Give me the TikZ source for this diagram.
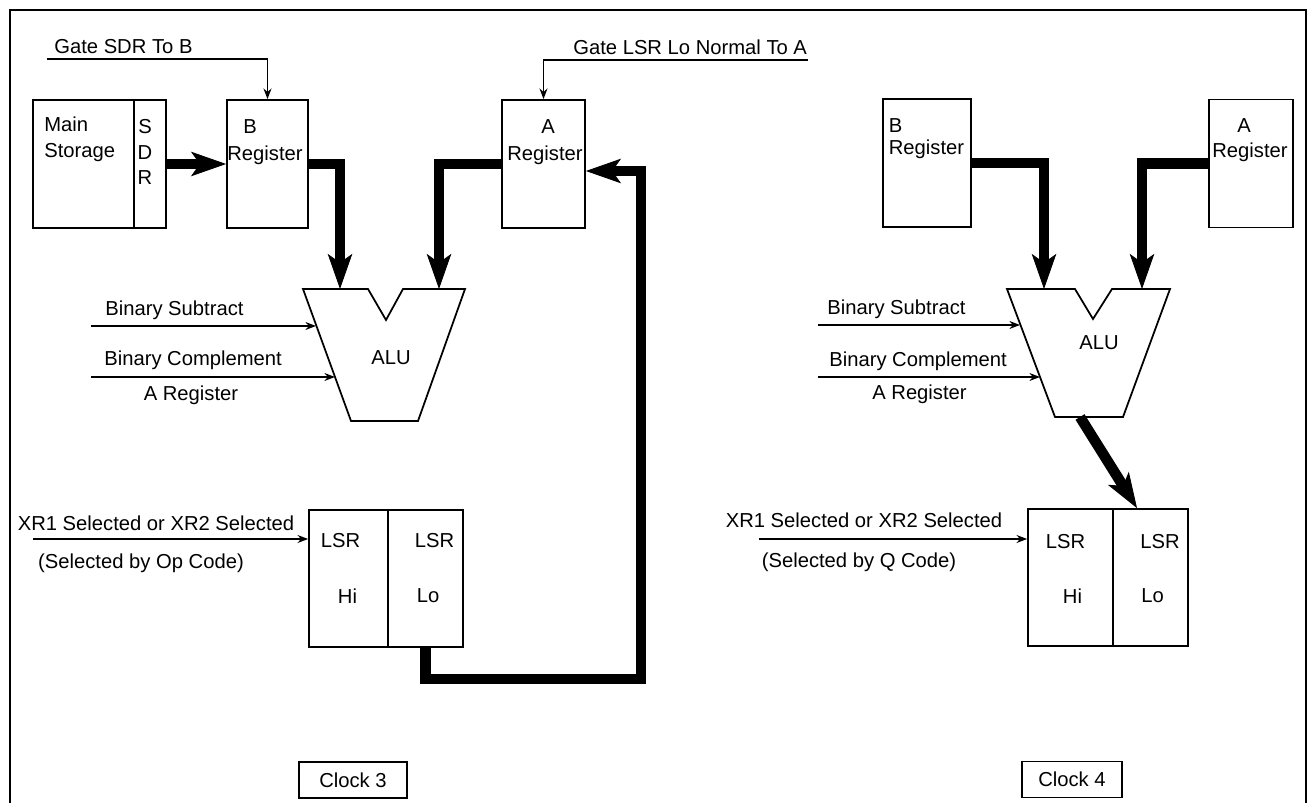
\documentclass[tikz,border=0pt]{standalone}
\usepackage{fontspec}
\setmainfont{Liberation Sans}
\usetikzlibrary{arrows.meta}

\begin{document}
\begin{tikzpicture}[every node/.style={font=\fontsize{11.5}{14.5}\selectfont},
	reg/.style={draw, line width=1pt, inner sep=0pt, minimum height=2.56cm},
	txt/.style={inner sep=0pt},
	bus/.style={line width=6pt, line join=miter, -{Stealth[length=20pt, width=14pt, inset=5pt, line width=0.5pt]}},
	sig/.style={line width=1pt, -{Stealth[length=6pt, width=4.5pt]}},
	alu/.style={draw, line width=1pt, line join=miter},
	clk/.style={draw, line width=1pt, inner sep=0pt, minimum height=0.72cm}]
	\useasboundingbox (0,0) rectangle (26.24,-16.06);
	\draw[line width=1pt] (0.2,-16.06) |- (26.12,-0.2) -- (26.12,-16.06);
	% clock 3
	\node[reg, minimum width=2.02cm] (mstL) at (1.67,-3.28) {};
	\node[reg, minimum width=0.64cm] (sdrL) at (3.0,-3.28) {};
	\node[txt, anchor=west, align=left] (mstTxt) at (0.88,-2.79) {Main\\Storage};
	\node[txt, align=center] (sdrTxt) at (2.9,-3.04) {S\\D\\R};
	\node[reg, minimum width=1.62cm] (regBL) at (5.35,-3.28) {};
	\node[txt] (bL) at (5.0,-2.54) {B};
	\node[txt] (bRegL) at (5.3,-3.1) {Register};
	\node[reg, minimum width=1.66cm] (regAL) at (10.87,-3.28) {};
	\node[txt] (aL) at (10.96,-2.54) {A};
	\node[txt] (aRegL) at (10.9,-3.1) {Register};
	\node[txt, anchor=west] (gsbTxt) at (1.08,-0.94) {Gate SDR To B};
	\coordinate (gsb) at (0.94,-1.18);
	\draw[sig] (gsb) -| (regBL.north);
	\node[txt, anchor=west] (glaTxt) at (11.46,-0.94) {Gate LSR Lo Normal To A};
	\coordinate (gla) at (16.16,-1.2);
	\draw[sig] (gla) -| (regAL.north);
	\draw[alu] (6.06,-5.78) -- (7.36,-5.78) -- (7.72,-6.4) -- (8.06,-5.78) -- (9.3,-5.78) -- (8.36,-8.42) -- (7.02,-8.42) -- cycle;
	\node[txt] (aluL) at (7.82,-7.16) {ALU};
	\coordinate (aluLb) at (6.8,-5.78);
	\coordinate (aluLa) at (8.78,-5.78);
	\draw[bus] (sdrL.east) -- (regBL.west);
	\draw[bus] (regBL.east) -| (aluLb);
	\draw[bus] (regAL.west) -| (aluLa);
	\node[txt, anchor=west] (subL) at (2.1,-6.2) {Binary Subtract};
	\node[txt, anchor=west] (cmpL) at (2.08,-7.2) {Binary Complement};
	\node[txt] (cmpAL) at (3.82,-7.9) {A Register};
	\coordinate (subLin) at (1.82,-6.52);
	\coordinate (subLend) at (6.32,-6.52);
	\coordinate (cmpLin) at (1.82,-7.54);
	\coordinate (cmpLend) at (6.7,-7.54);
	\draw[sig] (subLin) -- (subLend);
	\draw[sig] (cmpLin) -- (cmpLend);
	\node[reg, minimum width=1.58cm, minimum height=2.74cm] (lsrHiL) at (6.97,-11.57) {};
	\node[reg, minimum width=1.5cm, minimum height=2.74cm] (lsrLoL) at (8.51,-11.57) {};
	\node[txt] (hiL1) at (6.81,-10.82) {LSR};
	\node[txt] (hiL2) at (6.95,-11.92) {Hi};
	\node[txt] (loL1) at (8.69,-10.82) {LSR};
	\node[txt] (loL2) at (8.56,-11.92) {Lo};
	\node[txt] (xrL) at (3.12,-10.46) {XR1 Selected or XR2 Selected};
	\node[txt] (opL) at (2.82,-11.26) {(Selected by Op Code)};
	\coordinate (xrLin) at (0.66,-10.78);
	\draw[sig] (xrLin) -- (xrLin -| lsrHiL.west);
	\coordinate (fbL) at (12.82,-13.58);
	\draw[bus] (lsrLoL.south) |- (fbL) |- ([yshift=-0.14cm]regAL.east);
	\node[clk, minimum width=2.16cm] (clk3) at (7.06,-15.6) {Clock 3};
	% clock 4
	\node[reg, minimum width=1.76cm] (regBR) at (18.54,-3.26) {};
	\node[txt] (bR) at (17.91,-2.52) {B};
	\node[txt] (bRegR) at (18.53,-2.98) {Register};
	\node[reg, minimum width=1.68cm] (regAR) at (25.02,-3.27) {};
	\node[txt] (aR) at (24.88,-2.52) {A};
	\node[txt] (aRegR) at (25.0,-3.04) {Register};
	\draw[alu] (20.14,-5.78) -- (21.5,-5.78) -- (21.86,-6.38) -- (22.24,-5.78) -- (23.4,-5.78) -- (22.46,-8.34) -- (21.1,-8.34) -- cycle;
	\node[txt] (aluR) at (21.98,-6.86) {ALU};
	\coordinate (aluRb) at (20.88,-5.78);
	\coordinate (aluRa) at (22.84,-5.78);
	\draw[bus] (regBR.east) -| (aluRb);
	\draw[bus] (regAR.west) -| (aluRa);
	\node[txt, anchor=west] (subR) at (16.54,-6.18) {Binary Subtract};
	\node[txt, anchor=west] (cmpR) at (16.58,-7.22) {Binary Complement};
	\node[txt] (cmpAR) at (18.39,-7.88) {A Register};
	\coordinate (subRin) at (16.36,-6.5);
	\coordinate (subRend) at (20.4,-6.5);
	\coordinate (cmpRin) at (16.36,-7.54);
	\coordinate (cmpRend) at (20.8,-7.54);
	\draw[sig] (subRin) -- (subRend);
	\draw[sig] (cmpRin) -- (cmpRend);
	\node[reg, minimum width=1.7cm, minimum height=2.74cm] (lsrHiR) at (21.41,-11.55) {};
	\node[reg, minimum width=1.5cm, minimum height=2.74cm] (lsrLoR) at (23.01,-11.55) {};
	\node[txt] (hiR1) at (21.31,-10.84) {LSR};
	\node[txt] (hiR2) at (21.45,-11.92) {Hi};
	\node[txt] (loR1) at (23.2,-10.84) {LSR};
	\node[txt] (loR2) at (23.05,-11.92) {Lo};
	\coordinate (aluRout) at (21.6,-8.34);
	\draw[bus] (aluRout) -- ([xshift=-0.27cm]lsrLoR.north);
	\node[txt] (xrR) at (17.28,-10.4) {XR1 Selected or XR2 Selected};
	\node[txt] (opR) at (17.18,-11.24) {(Selected by Q Code)};
	\coordinate (xrRin) at (15.18,-10.78);
	\draw[sig] (xrRin) -- (xrRin -| lsrHiR.west);
	\node[clk, minimum width=2.0cm] (clk4) at (21.44,-15.59) {Clock 4};
\end{tikzpicture}
\end{document}
